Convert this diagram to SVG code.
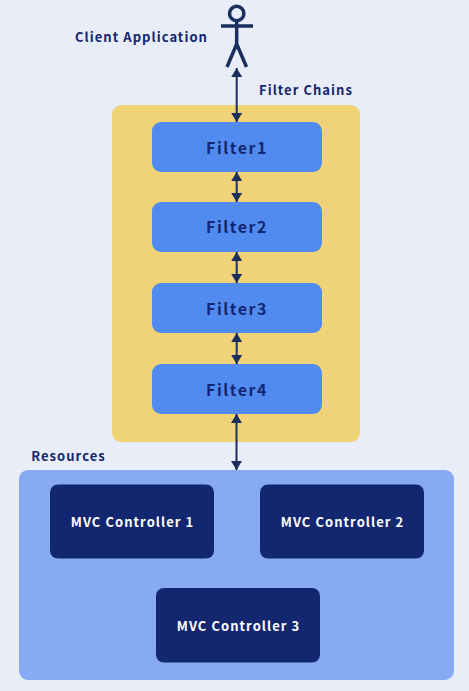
<svg xmlns="http://www.w3.org/2000/svg" width="469" height="691" viewBox="0 0 469 691">
<style>
text{font-family:"Noto Sans CJK SC","Noto Sans",sans-serif;font-weight:700;text-anchor:middle}
.f{fill:#528bf0}.t{fill:#132670;font-size:16px;letter-spacing:1.5px}
.m{fill:#132670}.w{fill:#fff;font-size:13px;letter-spacing:1.05px}
.l{fill:#132670;font-size:13px;letter-spacing:1.05px}
.c{stroke:#1b2f5f;stroke-width:2;fill:none;marker-start:url(#a);marker-end:url(#a)}
</style>
<defs><marker id="a" viewBox="0 0 9 11" refX="9" refY="5.500" markerWidth="9" markerHeight="11" markerUnits="userSpaceOnUse" orient="auto-start-reverse"><path d="M0 0L9 5.500L0 11Z" fill="#1b2f5f"/></marker></defs>
<rect width="469" height="691" fill="#e8edf7"/>
<g id="filter-chains"><rect x="112" y="105" width="248" height="337" rx="9" fill="#f0d277"/><text class="l" x="306" y="95">Filter Chains</text></g>
<g id="resources"><rect x="19" y="470" width="435" height="210" rx="9" fill="#87aaf2"/><text class="l" x="68.500" y="461">Resources</text></g>
<g id="client"><g stroke="#1b2f5f" stroke-width="3.500" fill="none"><circle cx="236.700" cy="13.500" r="7.200"/><path d="M236.700 21V44M221 26H253M236.700 44L227 67M236.700 44L246.500 67"/></g><text class="l" x="141.500" y="42">Client Application</text></g>
<g id="filter1"><rect class="f" x="152" y="122" width="170" height="50" rx="9"/><text class="t" x="237" y="154">Filter1</text></g>
<g id="filter2"><rect class="f" x="152" y="202" width="170" height="50" rx="9"/><text class="t" x="237" y="233">Filter2</text></g>
<g id="filter3"><rect class="f" x="152" y="283" width="170" height="50" rx="9"/><text class="t" x="237" y="315">Filter3</text></g>
<g id="filter4"><rect class="f" x="152" y="364" width="170" height="50" rx="9"/><text class="t" x="237" y="395.500">Filter4</text></g>
<g id="mvc1"><rect class="m" x="50" y="484.500" width="164" height="74" rx="8"/><text class="w" x="132.500" y="527">MVC Controller 1</text></g>
<g id="mvc2"><rect class="m" x="260" y="484.500" width="164" height="74" rx="8"/><text class="w" x="342.500" y="527">MVC Controller 2</text></g>
<g id="mvc3"><rect class="m" x="156" y="588" width="164" height="74.500" rx="8"/><text class="w" x="238.500" y="631">MVC Controller 3</text></g>
<g id="connectors">
<path class="c" d="M236.700 68V122"/><path class="c" d="M236.700 172V202"/><path class="c" d="M236.700 252V283"/><path class="c" d="M236.700 333V364"/><path class="c" d="M236.500 414V470"/>
</g>
</svg>
